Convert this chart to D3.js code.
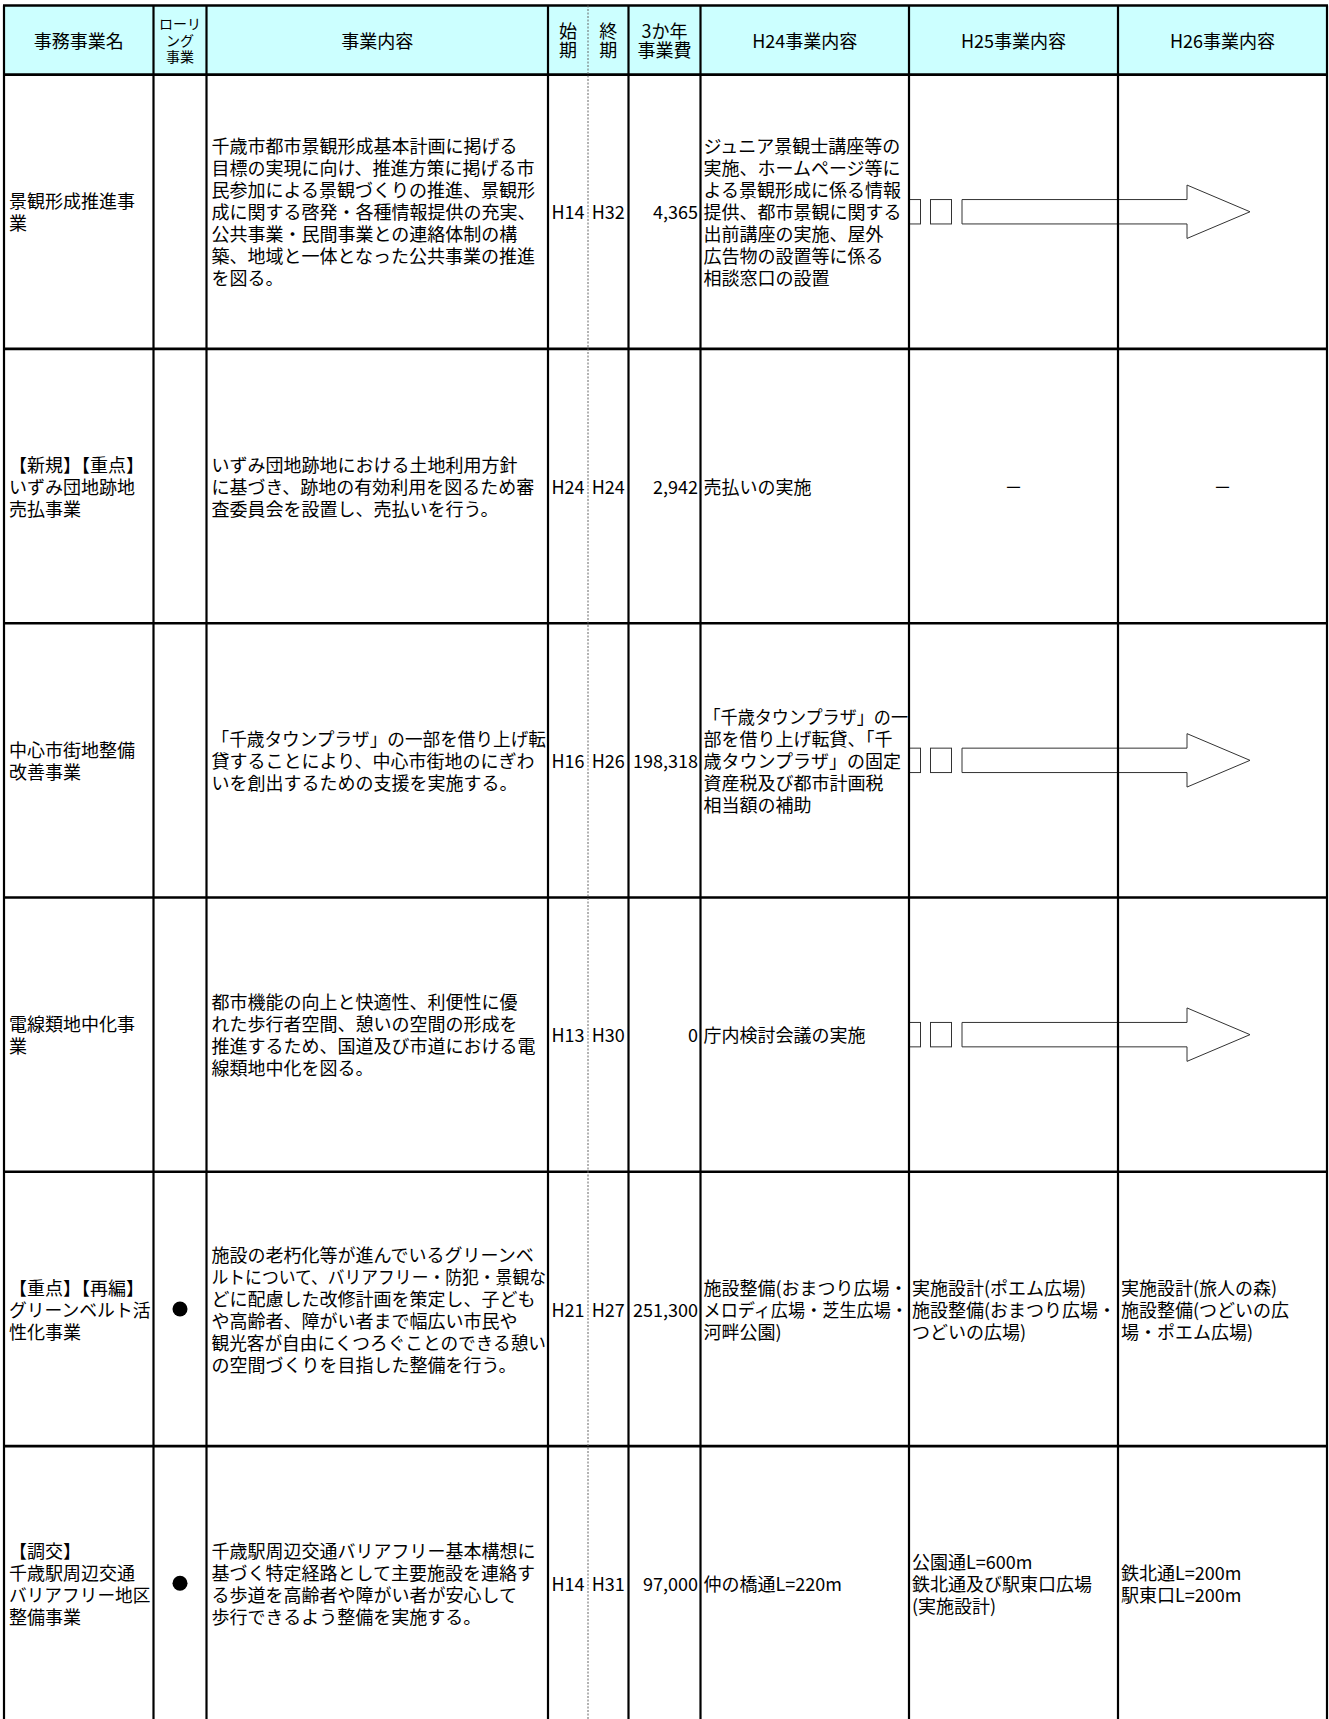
<!DOCTYPE html>
<html><head><meta charset="utf-8">
<script src="https://cdn.jsdelivr.net/npm/d3@7/dist/d3.min.js"></script>
<style>
html,body{margin:0;padding:0;background:#fff;}
svg{display:block;}
text{font-family:"Noto Sans CJK JP","Noto Sans",sans-serif;fill:#000;}
</style></head>
<body>
<svg id="chart" width="1329" height="1719"></svg>
<script>
// ---------- data ----------
const headerLines = [["事務事業名"], ["ローリ", "ング", "事業"], ["事業内容"], ["始", "期"], ["終", "期"], ["3か年", "事業費"], ["H24事業内容"], ["H25事業内容"], ["H26事業内容"]];
const names = [
  ["景観形成推進事", "業"],
  ["【新規】【重点】", "いずみ団地跡地", "売払事業"],
  ["中心市街地整備", "改善事業"],
  ["電線類地中化事", "業"],
  ["【重点】【再編】", "グリーンベルト活", "性化事業"],
  ["【調交】", "千歳駅周辺交通", "バリアフリー地区", "整備事業"]
];
const rolling = [false, false, false, false, true, true];
const descriptions = [
  ["千歳市都市景観形成基本計画に掲げる", "目標の実現に向け、推進方策に掲げる市", "民参加による景観づくりの推進、景観形", "成に関する啓発・各種情報提供の充実、", "公共事業・民間事業との連絡体制の構", "築、地域と一体となった公共事業の推進", "を図る。"],
  ["いずみ団地跡地における土地利用方針", "に基づき、跡地の有効利用を図るため審", "査委員会を設置し、売払いを行う。"],
  ["「千歳タウンプラザ」の一部を借り上げ転", "貸することにより、中心市街地のにぎわ", "いを創出するための支援を実施する。"],
  ["都市機能の向上と快適性、利便性に優", "れた歩行者空間、憩いの空間の形成を", "推進するため、国道及び市道における電", "線類地中化を図る。"],
  ["施設の老朽化等が進んでいるグリーンベ", "ルトについて、バリアフリー・防犯・景観な", "どに配慮した改修計画を策定し、子ども", "や高齢者、障がい者まで幅広い市民や", "観光客が自由にくつろぐことのできる憩い", "の空間づくりを目指した整備を行う。"],
  ["千歳駅周辺交通バリアフリー基本構想に", "基づく特定経路として主要施設を連絡す", "る歩道を高齢者や障がい者が安心して", "歩行できるよう整備を実施する。"]
];
const startPeriods = ["H14", "H24", "H16", "H13", "H21", "H14"];
const endPeriods = ["H32", "H24", "H26", "H30", "H27", "H31"];
const costs = [4365, 2942, 198318, 0, 251300, 97000];
const h24 = [
  ["ジュニア景観士講座等の", "実施、ホームページ等に", "よる景観形成に係る情報", "提供、都市景観に関する", "出前講座の実施、屋外", "広告物の設置等に係る", "相談窓口の設置"],
  ["売払いの実施"],
  ["「千歳タウンプラザ」の一", "部を借り上げ転貸、「千", "歳タウンプラザ」の固定", "資産税及び都市計画税", "相当額の補助"],
  ["庁内検討会議の実施"],
  ["施設整備(おまつり広場・", "メロディ広場・芝生広場・", "河畔公園)"],
  ["仲の橋通L=220m"]
];
const h25 = [
  "arrow",
  ["－"],
  "arrow",
  "arrow",
  ["実施設計(ポエム広場)", "施設整備(おまつり広場・", "つどいの広場)"],
  ["公園通L=600m", "鉄北通及び駅東口広場", "(実施設計)"]
];
const h26 = [
  "arrow",
  ["－"],
  "arrow",
  "arrow",
  ["実施設計(旅人の森)", "施設整備(つどいの広", "場・ポエム広場)"],
  ["鉄北通L=200m", "駅東口L=200m"]
];

// ---------- layout ----------
const colEdges = [4, 153.5, 206.5, 548, 588, 628.5, 700.5, 909, 1118, 1327];
const headerTop = 5.5, headerBottom = 74.6, rowH = 274.3;
const FS = 18, LH = 22;
const svg = d3.select("#chart");
const nRows = names.length;

const y = d3.scaleBand().domain(d3.range(nRows)).range([headerBottom, headerBottom + rowH * nRows]).padding(0);
const col = i => ({x0: colEdges[i], x1: colEdges[i + 1], cx: (colEdges[i] + colEdges[i + 1]) / 2});
const fmt = d3.format(",");

// header background
svg.append("rect").attr("x", colEdges[0]).attr("y", headerTop)
  .attr("width", colEdges[9] - colEdges[0]).attr("height", headerBottom - headerTop)
  .attr("fill", "#ccffff");

// one <text> per cell, one <tspan> per line
function lines(g, arr, x, yc, anchor, avail, fs, lh) {
  fs = fs || FS; lh = lh || LH;
  const n = arr.length;
  const t = g.append("text")
    .attr("text-anchor", anchor)
    .attr("font-size", fs);
  arr.forEach((s, i) => {
    const ts = t.append("tspan")
      .attr("x", x)
      .attr("y", yc + (i - (n - 1) / 2) * lh + fs * 0.42)
      .text(s);
    if (avail) {
      const w = ts.node().getComputedTextLength();
      if (w > avail) ts.attr("textLength", avail).attr("lengthAdjust", "spacingAndGlyphs");
    }
  });
  return t;
}

// header text
const hg = svg.append("g");
const hc = (headerTop + headerBottom) / 2;
headerLines.forEach((hl, i) => {
  const c = col(i);
  if (i === 1) lines(hg, hl, c.cx, hc, "middle", null, 14, 16.5);
  else lines(hg, hl, c.cx, hc, "middle", null, 18, 19);
});

// body
const bg = svg.append("g");
function drawArrow(g, x0, yc) {
  const s = g.append("g").attr("fill", "none").attr("stroke", "#333").attr("stroke-width", 1);
  s.append("rect").attr("x", x0 + 0.5).attr("y", yc - 12.2).attr("width", 11).attr("height", 24.4);
  s.append("rect").attr("x", x0 + 21.5).attr("y", yc - 12.2).attr("width", 21).attr("height", 24.4);
  const bx = x0 + 53, hx = x0 + 278, tip = x0 + 341;
  s.append("path").attr("d",
    `M${bx},${yc - 12.2} L${hx},${yc - 12.2} L${hx},${yc - 26.7} L${tip},${yc} L${hx},${yc + 26.7} L${hx},${yc + 12.2} L${bx},${yc + 12.2} Z`);
}

for (let r = 0; r < nRows; r++) {
  const yc = y(r) + y.bandwidth() / 2;
  const pad = 5;
  lines(bg, names[r], col(0).x0 + pad, yc, "start", col(0).x1 - col(0).x0 - pad - 3);
  if (rolling[r]) bg.append("circle").attr("cx", col(1).cx).attr("cy", yc).attr("r", 7.5).attr("fill", "#000");
  lines(bg, descriptions[r], col(2).x0 + pad, yc, "start", col(2).x1 - col(2).x0 - pad - 2);
  lines(bg, [startPeriods[r]], col(3).cx, yc, "middle", col(3).x1 - col(3).x0 - 4);
  lines(bg, [endPeriods[r]], col(4).cx, yc, "middle", col(4).x1 - col(4).x0 - 4);
  lines(bg, [fmt(costs[r])], col(5).x1 - 2.5, yc, "end", col(5).x1 - col(5).x0 - 4);
  lines(bg, h24[r], col(6).x0 + 3, yc, "start", col(6).x1 - col(6).x0 - 4);
  if (h25[r] === "arrow") {
    drawArrow(bg, col(7).x0, yc);
  } else {
    if (h25[r].length === 1 && h25[r][0] === "－") lines(bg, h25[r], col(7).cx, yc, "middle");
    else lines(bg, h25[r], col(7).x0 + 3, yc, "start", col(7).x1 - col(7).x0 - 4);
  }
  if (h26[r] !== "arrow") {
    if (h26[r].length === 1 && h26[r][0] === "－") lines(bg, h26[r], col(8).cx, yc, "middle");
    else lines(bg, h26[r], col(8).x0 + 3, yc, "start", col(8).x1 - col(8).x0 - 4);
  }
}

// grid lines
const grid = svg.append("g").attr("stroke", "#000").attr("stroke-width", 2.2);
const bottom = headerBottom + rowH * nRows;
colEdges.forEach((x, i) => {
  if (i === 4) {
    svg.append("line").attr("x1", x).attr("x2", x).attr("y1", headerTop).attr("y2", bottom)
      .attr("stroke", "#666").attr("stroke-width", 1).attr("stroke-dasharray", "2,1.5");
  } else {
    grid.append("line").attr("x1", x).attr("x2", x).attr("y1", headerTop).attr("y2", bottom);
  }
});
const hLines = [headerTop, headerBottom].concat(d3.range(1, nRows + 1).map(i => y(i - 1) + y.bandwidth()));
hLines.forEach(yy => grid.append("line").attr("x1", colEdges[0] - 1).attr("x2", colEdges[9] + 1).attr("y1", yy).attr("y2", yy)
  .attr("stroke-width", yy === headerTop ? 2.5 : 2.6));
</script>
</body></html>
